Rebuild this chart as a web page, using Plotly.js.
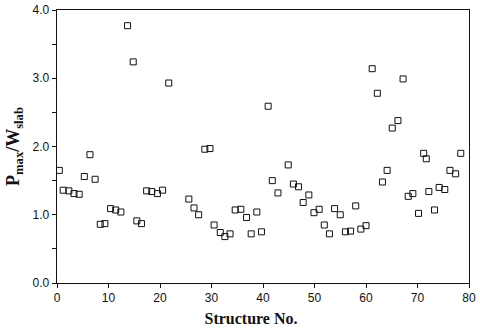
<!DOCTYPE html>
<html>
<head>
<meta charset="utf-8">
<script src="https://cdn.plot.ly/plotly-3.0.1.min.js"></script>
<style>html,body{margin:0;padding:0;background:#fff;}#chart{width:480px;height:334px;}</style>
</head>
<body>
<div id="chart"></div>
<script>
var structureNo = [0.45,1.2,2.3,3.3,4.3,5.3,6.4,7.4,8.4,9.3,10.4,11.4,12.4,13.7,14.8,15.5,16.4,17.4,18.4,19.5,20.5,21.7,25.6,26.6,27.5,28.7,29.7,30.5,31.7,32.6,33.6,34.6,35.7,36.8,37.7,38.8,39.7,41.0,41.8,42.9,44.9,45.9,46.9,47.8,48.9,49.9,50.9,51.9,52.9,53.9,55.0,56.0,57.0,58.0,59.0,60.0,61.2,62.2,63.2,64.1,65.1,66.2,67.2,68.2,69.1,70.2,71.2,71.7,72.2,73.3,74.2,75.3,76.3,77.4,78.4];
var ratio = [1.65,1.36,1.35,1.31,1.30,1.56,1.88,1.52,0.86,0.87,1.09,1.07,1.04,3.77,3.24,0.91,0.87,1.35,1.34,1.31,1.36,2.93,1.23,1.10,1.00,1.96,1.97,0.85,0.74,0.68,0.72,1.07,1.08,0.96,0.72,1.04,0.75,2.59,1.50,1.32,1.73,1.45,1.41,1.18,1.29,1.03,1.08,0.85,0.72,1.09,1.00,0.75,0.76,1.13,0.79,0.84,3.14,2.78,1.48,1.65,2.27,2.38,2.99,1.27,1.31,1.02,1.90,1.82,1.34,1.07,1.40,1.37,1.65,1.60,1.90];
var yTickVals = [0,1,2,3,4];
var yTickText = ['0.0','1.0','2.0','3.0','4.0'];
var xTickVals = [0,10,20,30,40,50,60,70,80];

var tickFont = {family:'Liberation Sans, Arial, sans-serif', size:12, color:'#111'};
var titleFont = {family:'Liberation Serif, Times New Roman, serif', size:16, color:'#111'};
var data = [{
  x: structureNo, y: ratio, type:'scatter', mode:'markers',
  marker:{symbol:'square-open', size:6, color:'#111', line:{width:1, color:'#111'}},
  hoverinfo:'skip'
}];
var layout = {
  width:480, height:334,
  margin:{l:57, r:11, t:10, b:51},
  paper_bgcolor:'#fff', plot_bgcolor:'#fff',
  showlegend:false,
  xaxis:{range:[0,80], tickvals:xTickVals, ticks:'outside', ticklen:4, tickwidth:1, tickcolor:'#111',
         showline:true, linecolor:'#111', linewidth:1, mirror:true, showgrid:false, zeroline:false,
         tickfont:tickFont, fixedrange:true,
         title:{text:'<b>Structure No.</b>&nbsp;&nbsp;&nbsp;&nbsp;&nbsp;&nbsp;', font:titleFont, standoff:8}},
  yaxis:{range:[0,4], tickvals:yTickVals, ticktext:yTickText, ticks:'outside', ticklen:4, tickwidth:1, tickcolor:'#111',
         minor:{dtick:0.5, ticks:'outside', ticklen:4, tickwidth:1, tickcolor:'#111', showgrid:false},
         showline:true, linecolor:'#111', linewidth:1.3, mirror:true, showgrid:false, zeroline:false,
         tickfont:tickFont, fixedrange:true,
         title:{text:'<b>P<sub>max</sub>/W<sub>slab</sub></b>', font:{family:'Liberation Serif, Times New Roman, serif', size:18, color:'#111'}, standoff:8}}
};
Plotly.newPlot('chart', data, layout, {displayModeBar:false, staticPlot:true});
</script>
</body>
</html>
